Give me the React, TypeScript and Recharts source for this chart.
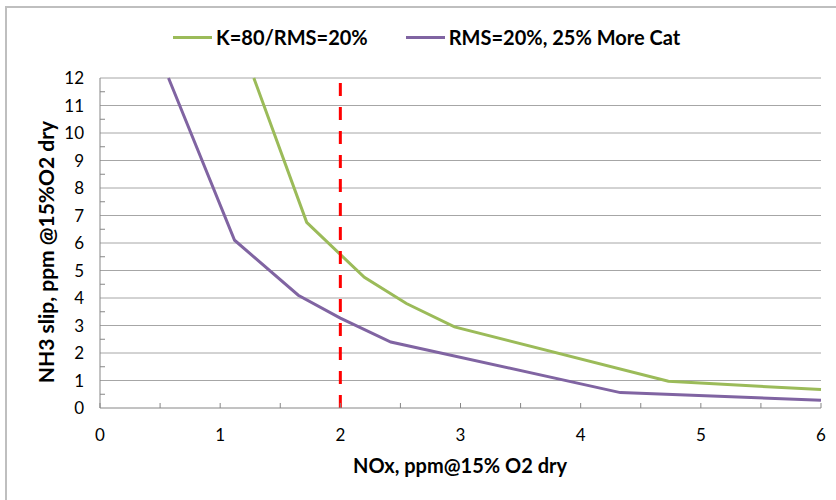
import { CartesianGrid, Label, Line, LineChart, ReferenceLine, XAxis, YAxis } from "recharts";

// NH3 slip vs NOx for two catalyst configurations
const baseCase = [
  { x: 1.28, y: 12 },
  { x: 1.72, y: 6.75 },
  { x: 2.2, y: 4.75 },
  { x: 2.55, y: 3.8 },
  { x: 2.95, y: 2.95 },
  { x: 4.73, y: 0.97 },
  { x: 6, y: 0.67 },
];

const moreCat = [
  { x: 0.57, y: 12 },
  { x: 1.12, y: 6.1 },
  { x: 1.65, y: 4.1 },
  { x: 2.0, y: 3.27 },
  { x: 2.42, y: 2.4 },
  { x: 4.33, y: 0.56 },
  { x: 6, y: 0.28 },
];

const xTicks = [0, 0.5, 1, 1.5, 2, 2.5, 3, 3.5, 4, 4.5, 5, 5.5, 6];
const yTicks = [0, 0.5, 1, 1.5, 2, 2.5, 3, 3.5, 4, 4.5, 5, 5.5, 6, 6.5, 7, 7.5, 8, 8.5, 9, 9.5, 10, 10.5, 11, 11.5, 12];
const gridValues = [1, 2, 3, 4, 5, 6, 7, 8, 9, 10, 11, 12];
const limitNOx = 2;

const GREEN = "#9bbb59";
const PURPLE = "#8064a2";
const AXIS = "#868686";
const FONT = "Lato, 'Open Sans', sans-serif";

const XTick = (props: any) => {
  const { x, y, payload } = props;
  const v = payload.value;
  return (
    <g>
      <line x1={x} y1={y} x2={x} y2={y - 5} stroke={AXIS} strokeWidth={1} />
      {Number.isInteger(v) && (
        <text x={x} y={y + 33} textAnchor="middle" fontSize={17} fontFamily={FONT} fill="#000">
          {v}
        </text>
      )}
    </g>
  );
};

const YTick = (props: any) => {
  const { x, y, payload } = props;
  const v = payload.value;
  return (
    <g>
      {!Number.isInteger(v) && <line x1={x} y1={y} x2={x + 5} y2={y} stroke={AXIS} strokeWidth={1} />}
      {Number.isInteger(v) && (
        <text x={x - 16} y={y + 6} textAnchor="end" fontSize={17} fontFamily={FONT} fill="#000">
          {v}
        </text>
      )}
    </g>
  );
};

const LegendItem = ({ color, text }: { color: string; text: string }) => (
  <div style={{ display: "flex", alignItems: "center" }}>
    <div style={{ width: 39, height: 3, background: color, marginRight: 4 }} />
    <span>{text}</span>
  </div>
);

export default function App() {
  return (
    <div style={{ position: "absolute", left: 0, top: 0, width: 836, height: 500, background: "#fff", overflow: "hidden" }}>
      <div
        style={{
          position: "absolute",
          left: 5,
          top: 6,
          width: 900,
          height: 600,
          borderLeft: "2px solid #bfbfbf",
          borderTop: "2px solid #bfbfbf",
        }}
      />
      <div
        style={{
          position: "absolute",
          left: 173,
          top: 24,
          display: "flex",
          gap: 38,
          fontFamily: FONT,
          fontWeight: 700,
          fontSize: 20,
          color: "#000",
          lineHeight: "26px",
        }}
      >
        <LegendItem color={GREEN} text="K=80/RMS=20%" />
        <LegendItem color={PURPLE} text="RMS=20%, 25% More Cat" />
      </div>
      <LineChart
        width={836}
        height={500}
        margin={{ top: 78, right: 15, bottom: 0, left: 0 }}
        style={{ position: "absolute", left: 0, top: 0 }}
      >
        <CartesianGrid horizontal vertical={false} horizontalValues={gridValues} stroke="#a6a6a6" />
        <XAxis
          type="number"
          dataKey="x"
          domain={[0, 6]}
          ticks={xTicks}
          interval={0}
          height={92}
          tickSize={0}
          tickMargin={0}
          tickLine={false}
          axisLine={{ stroke: AXIS }}
          tick={XTick}
          allowDuplicatedCategory={false}
        >
          <Label
            content={() => (
              <text x={460} y={473} textAnchor="middle" fontSize={20} fontWeight={700} fontFamily={FONT} fill="#000">
                NOx, ppm@15% O2 dry
              </text>
            )}
          />
        </XAxis>
        <YAxis
          type="number"
          domain={[0, 12]}
          ticks={yTicks}
          interval={0}
          width={100}
          tickSize={0}
          tickMargin={0}
          tickLine={false}
          axisLine={{ stroke: AXIS }}
          tick={YTick}
        >
          <Label
            content={() => (
              <text
                x={45}
                y={252}
                transform="rotate(-90 45 252)"
                textAnchor="middle"
                dominantBaseline="central"
                fontSize={21}
                fontWeight={700}
                fontFamily={FONT}
                fill="#000"
              >
                NH3 slip, ppm @15%O2 dry
              </text>
            )}
          />
        </YAxis>
        <Line
          data={baseCase}
          dataKey="y"
          type="linear"
          stroke={GREEN}
          strokeWidth={3}
          dot={false}
          activeDot={false}
          isAnimationActive={false}
        />
        <Line
          data={moreCat}
          dataKey="y"
          type="linear"
          stroke={PURPLE}
          strokeWidth={3}
          dot={false}
          activeDot={false}
          isAnimationActive={false}
        />
        <ReferenceLine x={limitNOx} stroke="#ff0000" strokeWidth={3} strokeDasharray="13 11" />
      </LineChart>
    </div>
  );
}
